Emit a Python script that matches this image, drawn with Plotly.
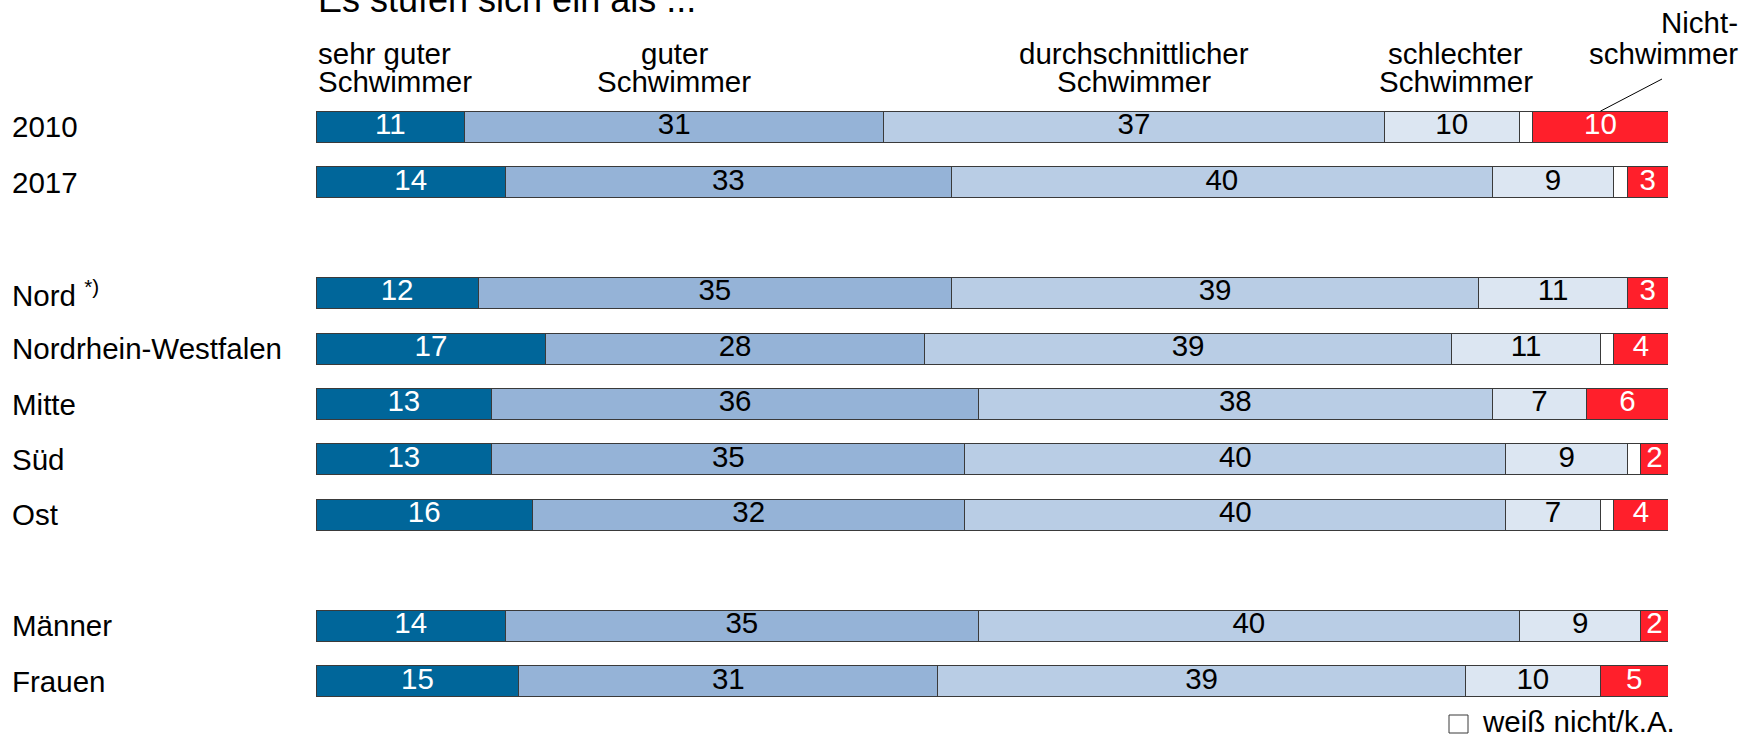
import plotly.graph_objects as go

# ---------------- data ----------------
groups = [
    ["2010", "2017"],
    ["Nord <sup>*)</sup>", "Nordrhein-Westfalen", "Mitte", "Süd", "Ost"],
    ["Männer", "Frauen"],
]
sehr_gut = [11, 14, 12, 17, 13, 13, 16, 14, 15]
gut = [31, 33, 35, 28, 36, 35, 32, 35, 31]
durchschnitt = [37, 40, 39, 39, 38, 40, 40, 40, 39]
schlecht = [10, 9, 11, 11, 7, 9, 7, 9, 10]
weiss_nicht = [1, 1, 0, 1, 0, 1, 1, 0, 0]
nicht = [10, 3, 3, 4, 6, 2, 4, 2, 5]

series_names = ["sehr guter Schwimmer", "guter Schwimmer", "durchschnittlicher Schwimmer",
                "schlechter Schwimmer", "weiß nicht/k.A.", "Nichtschwimmer"]
header_lines = [["sehr guter", "Schwimmer"], ["guter", "Schwimmer"],
                ["durchschnittlicher", "Schwimmer"], ["schlechter", "Schwimmer"],
                None, ["Nicht-", "schwimmer"]]
title_text = "Es stufen sich ein als ..."
legend_text = "weiß nicht/k.A."

# ---------------- styles ----------------
colors = ["#00669A", "#95B3D7", "#B9CDE5", "#DCE6F2", "#FFFFFF", "#FF1F2B"]
text_colors = ["white", "black", "black", "black", None, "white"]
FONT = "Liberation Sans, Arial, Helvetica, sans-serif"
FS = 29.5

# slot positions (gap of one slot between groups)
labels, slots = [], []
pos = 0
for gi, g in enumerate(groups):
    if gi > 0:
        pos += 1
    for lab in g:
        labels.append(lab)
        slots.append(pos)
        pos += 1
n_slots = pos

series = [sehr_gut, gut, durchschnitt, schlecht, weiss_nicht, nicht]

fig = go.Figure()
BAR_W = 0.56
for name, vals, col in zip(series_names, series, colors):
    fig.add_trace(go.Bar(
        x=vals, y=slots, orientation="h", name=name, width=BAR_W,
        marker=dict(color=col, line=dict(color="#3a3a3a", width=1)),
        hoverinfo="skip", showlegend=False,
    ))

# value labels at segment centres
cum = [0] * len(slots)
for vals, tc in zip(series, text_colors):
    xs = [c + v / 2 for c, v in zip(cum, vals)]
    if tc is not None:
        fig.add_trace(go.Scatter(
            x=xs, y=slots, mode="text", text=[str(v) for v in vals],
            textposition="middle center",
            textfont=dict(family=FONT, size=FS, color=tc),
            hoverinfo="skip", showlegend=False, cliponaxis=False,
        ))
    cum = [c + v for c, v in zip(cum, vals)]

# ---------------- layout geometry ----------------
W, H = 1743, 735
ML, MR, MT, MB = 316, 75, 99, 26
plot_h = H - MT - MB
plot_w = W - ML - MR
slot_px = plot_h / n_slots

def py_to_paper(py):
    return (H - MB - py) / plot_h

def px_to_paper(px):
    return (px - ML) / plot_w

annotations = []
# row labels
for lab, s in zip(labels, slots):
    annotations.append(dict(
        x=px_to_paper(10), xref="paper", y=s, yref="y", text=lab,
        xanchor="left", yanchor="middle", showarrow=False,
        font=dict(family=FONT, size=FS, color="black")))

# column headers, placed over the first row's segments
first = [v[0] for v in series]
starts = [sum(first[:i]) for i in range(len(first))]
for i, lines in enumerate(header_lines):
    if lines is None:
        continue
    if i == 0:
        x, xref, anchor = starts[i], "x", "left"
    elif i == len(header_lines) - 1:
        x, xref, anchor = px_to_paper(1740), "paper", "right"
    else:
        x, xref, anchor = starts[i] + first[i] / 2 + (0.3 if i == 3 else 0), "x", "center"
    if i == len(header_lines) - 1:
        ys = [22, 53]
    else:
        ys = [53, 82]
    for line, yy in zip(lines, ys):
        annotations.append(dict(
            x=x, xref=xref, y=py_to_paper(yy), yref="paper", text=line,
            xanchor=anchor, yanchor="middle", showarrow=False,
            font=dict(family=FONT, size=FS, color="black")))

# title (cut at the top edge as in the original)
annotations.append(dict(
    x=0, xref="x", y=py_to_paper(-1), yref="paper", text=title_text,
    xanchor="left", yanchor="middle", showarrow=False,
    font=dict(family=FONT, size=36, color="black")))

# legend for the white segment
annotations.append(dict(
    x=px_to_paper(1480), xref="paper", y=py_to_paper(721), yref="paper", text=legend_text,
    xanchor="left", yanchor="middle", showarrow=False,
    font=dict(family=FONT, size=FS, color="black")))

shapes = [
    # legend square
    dict(type="rect", xref="paper", yref="paper",
         x0=px_to_paper(1449), x1=px_to_paper(1468),
         y0=py_to_paper(733), y1=py_to_paper(715),
         line=dict(color="#3a3a3a", width=1), fillcolor="white"),
    # leader line for Nichtschwimmer
    dict(type="line", xref="x", yref="paper",
         x0=100 - first[-1] / 2, y0=py_to_paper(MT + slot_px / 2 - BAR_W * slot_px / 2),
         x1=(1662 - ML) / plot_w * 100, y1=py_to_paper(79),
         line=dict(color="black", width=1)),
]

fig.update_layout(
    barmode="stack",
    width=W, height=H,
    margin=dict(l=ML, r=MR, t=MT, b=MB, pad=0),
    paper_bgcolor="white", plot_bgcolor="white",
    xaxis=dict(range=[0, 100], visible=False, fixedrange=True),
    yaxis=dict(range=[n_slots - 0.5, -0.5], visible=False, fixedrange=True),
    annotations=annotations, shapes=shapes,
    showlegend=False, hovermode=False,
    font=dict(family=FONT, size=FS, color="black"),
)

fig.write_html("out.html", config={"displayModeBar": False},
               post_script="document.body.style.margin='0';")
